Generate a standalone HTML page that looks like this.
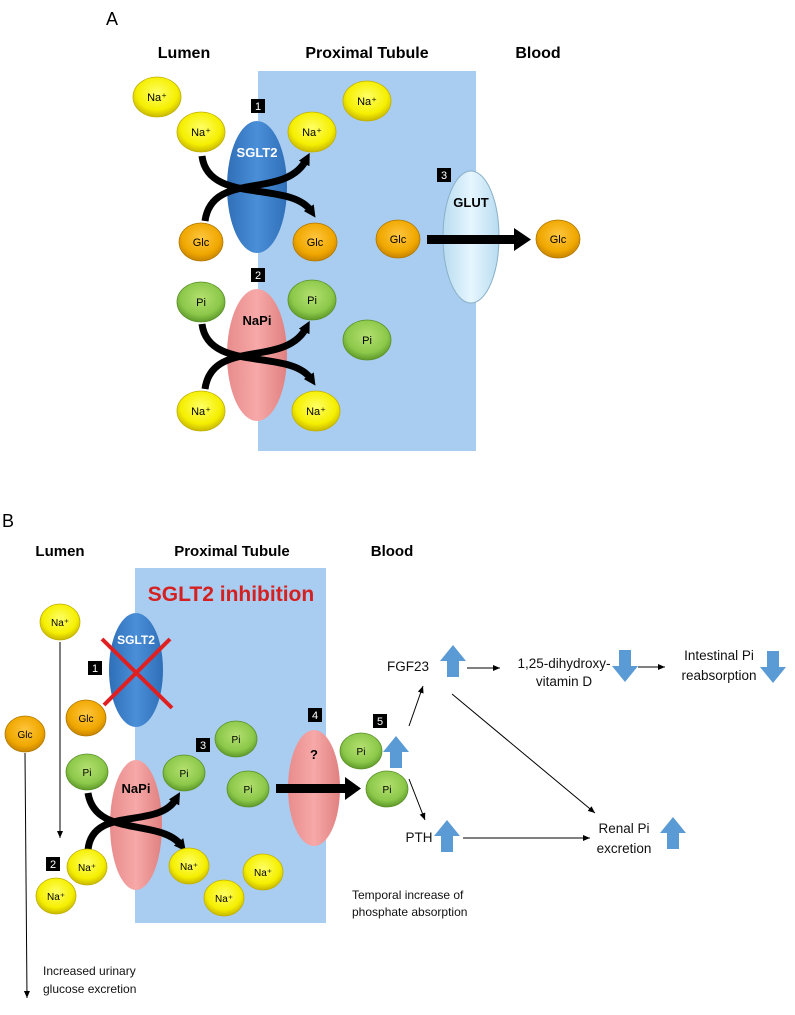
<!DOCTYPE html>
<html><head><meta charset="utf-8"><style>
html,body{margin:0;padding:0;background:#fff}
svg{display:block}
text{font-family:"Liberation Sans",sans-serif}
</style></head><body>
<svg width="795" height="1015" viewBox="0 0 795 1015" xmlns="http://www.w3.org/2000/svg">
<defs>
<radialGradient id="y" cx="50%" cy="40%" r="60%"><stop offset="0" stop-color="#ffff66"/><stop offset="0.7" stop-color="#f5ef00"/><stop offset="1" stop-color="#c8b800"/></radialGradient>
<radialGradient id="o" cx="50%" cy="40%" r="60%"><stop offset="0" stop-color="#ffc640"/><stop offset="0.7" stop-color="#f0a800"/><stop offset="1" stop-color="#c88400"/></radialGradient>
<radialGradient id="g" cx="50%" cy="40%" r="60%"><stop offset="0" stop-color="#b4e070"/><stop offset="0.7" stop-color="#8cc84a"/><stop offset="1" stop-color="#5f9a2a"/></radialGradient>
<linearGradient id="bl" x1="0" x2="1"><stop offset="0" stop-color="#2f6fb8"/><stop offset="0.5" stop-color="#4a8fd8"/><stop offset="1" stop-color="#2f6fb8"/></linearGradient>
<linearGradient id="pk" x1="0" x2="1"><stop offset="0" stop-color="#e88c8c"/><stop offset="0.5" stop-color="#f7a8a8"/><stop offset="1" stop-color="#e08080"/></linearGradient>
<linearGradient id="lb" x1="0" x2="1"><stop offset="0" stop-color="#b8dcf0"/><stop offset="0.5" stop-color="#e6f6ff"/><stop offset="1" stop-color="#b8dcf0"/></linearGradient>
<marker id="ah" markerWidth="8" markerHeight="8" refX="7" refY="4" orient="auto" markerUnits="userSpaceOnUse"><path d="M0,1 L7,4 L0,7z" fill="#000"/></marker>
<marker id="bh" markerWidth="12" markerHeight="12" refX="4" refY="6" orient="auto" markerUnits="userSpaceOnUse"><path d="M0,0 L12,6 L0,12z" fill="#000"/></marker>
<path id="up" d="M-6,16 L-6,0 L-13,0 L0,-16 L13,0 L6,0 L6,16z" fill="#5b9bd5"/>
<path id="dn" d="M-6,-16 L-6,0 L-13,0 L0,16 L13,0 L6,0 L6,-16z" fill="#5b9bd5"/>
</defs>

<!-- Part A -->
<text x="106" y="25" font-size="18">A</text>
<g font-weight="bold" font-size="16" text-anchor="middle">
<text x="184" y="58">Lumen</text><text x="367" y="58">Proximal Tubule</text><text x="538" y="58">Blood</text></g>
<rect x="258" y="71" width="218" height="380" fill="#a9cdf0"/>

<g font-size="11" text-anchor="middle" stroke-width="0.8">
<ellipse cx="157" cy="97" rx="24" ry="20" fill="url(#y)" stroke="#c0b000"/><text x="157" y="101">Na⁺</text>
<ellipse cx="201" cy="132" rx="24" ry="20" fill="url(#y)" stroke="#c0b000"/><text x="201" y="136">Na⁺</text>
<ellipse cx="312" cy="132" rx="24" ry="20" fill="url(#y)" stroke="#c0b000"/><text x="312" y="136">Na⁺</text>
<ellipse cx="367" cy="101" rx="24" ry="20" fill="url(#y)" stroke="#c0b000"/><text x="367" y="105">Na⁺</text>
<ellipse cx="201" cy="242" rx="22" ry="19" fill="url(#o)" stroke="#b07800"/><text x="201" y="246">Glc</text>
<ellipse cx="315" cy="242" rx="22" ry="19" fill="url(#o)" stroke="#b07800"/><text x="315" y="246">Glc</text>
<ellipse cx="398" cy="239" rx="22" ry="19" fill="url(#o)" stroke="#b07800"/><text x="398" y="243">Glc</text>
<ellipse cx="558" cy="239" rx="22" ry="19" fill="url(#o)" stroke="#b07800"/><text x="558" y="243">Glc</text>
<ellipse cx="201" cy="302" rx="24" ry="20" fill="url(#g)" stroke="#5a9028"/><text x="201" y="306">Pi</text>
<ellipse cx="312" cy="300" rx="24" ry="20" fill="url(#g)" stroke="#5a9028"/><text x="312" y="304">Pi</text>
<ellipse cx="367" cy="340" rx="24" ry="20" fill="url(#g)" stroke="#5a9028"/><text x="367" y="344">Pi</text>
<ellipse cx="201" cy="411" rx="24" ry="20" fill="url(#y)" stroke="#c0b000"/><text x="201" y="415">Na⁺</text>
<ellipse cx="316" cy="411" rx="24" ry="20" fill="url(#y)" stroke="#c0b000"/><text x="316" y="415">Na⁺</text>
</g>

<ellipse cx="257" cy="187" rx="30" ry="66" fill="url(#bl)"/>
<text x="257" y="157" font-size="13" font-weight="bold" fill="#fff" text-anchor="middle">SGLT2</text>
<ellipse cx="257" cy="355" rx="30" ry="66" fill="url(#pk)"/>
<text x="257" y="325" font-size="13" font-weight="bold" text-anchor="middle">NaPi</text>
<ellipse cx="471" cy="237" rx="28" ry="66" fill="url(#lb)" stroke="#8ab0c8"/>
<text x="471" y="207" font-size="13" font-weight="bold" text-anchor="middle">GLUT</text>

<g fill="none" stroke="#000" stroke-width="7">
<path d="M202,156 C208,205 290,180 311,211" marker-end="url(#bh)"/>
<path d="M205,221 C212,170 285,200 306,160" marker-end="url(#bh)"/>
<path d="M202,324 C208,373 290,348 311,379" marker-end="url(#bh)"/>
<path d="M205,389 C212,338 285,368 306,328" marker-end="url(#bh)"/>
</g>
<rect x="427" y="235" width="88" height="9" fill="#000"/><path d="M514,228 L531,239.5 L514,251z" fill="#000"/>

<g font-size="11" fill="#fff" text-anchor="middle">
<rect x="251" y="99" width="14" height="14" fill="#000"/><text x="258" y="110">1</text>
<rect x="251" y="268" width="14" height="14" fill="#000"/><text x="258" y="279">2</text>
<rect x="437" y="168" width="14" height="14" fill="#000"/><text x="444" y="179">3</text>
</g>

<!-- Part B -->
<text x="2" y="527" font-size="18">B</text>
<g font-weight="bold" font-size="15" text-anchor="middle">
<text x="60" y="556">Lumen</text><text x="232" y="556">Proximal Tubule</text><text x="392" y="556">Blood</text></g>
<rect x="135" y="568" width="191" height="355" fill="#a9cdf0"/>
<text x="231" y="601" font-size="21" font-weight="bold" fill="#d42020" text-anchor="middle">SGLT2 inhibition</text>

<line x1="60" y1="642" x2="60" y2="838" stroke="#000" marker-end="url(#ah)"/>
<line x1="25" y1="753" x2="27" y2="998" stroke="#000" marker-end="url(#ah)"/>

<ellipse cx="136" cy="670" rx="27" ry="57" fill="url(#bl)"/>
<text x="136" y="644" font-size="12" font-weight="bold" fill="#fff" text-anchor="middle">SGLT2</text>
<g stroke="#e02020" stroke-width="4"><line x1="102" y1="639" x2="172" y2="708"/><line x1="170" y1="639" x2="104" y2="705"/></g>
<ellipse cx="136" cy="825" rx="26" ry="65" fill="url(#pk)"/>
<text x="136" y="793" font-size="13" font-weight="bold" text-anchor="middle">NaPi</text>
<ellipse cx="314" cy="788" rx="26" ry="58" fill="url(#pk)"/>
<text x="314" y="759" font-size="13" font-weight="bold" text-anchor="middle">?</text>

<g fill="none" stroke="#000" stroke-width="7">
<path d="M88,793 C95,838 160,818 181,845" marker-end="url(#bh)"/>
<path d="M88,850 C92,805 158,830 176,799" marker-end="url(#bh)"/>
</g>
<rect x="276" y="784" width="70" height="9" fill="#000"/><path d="M345,777 L361,788.5 L345,800z" fill="#000"/>

<g font-size="10" text-anchor="middle" stroke-width="0.8">
<ellipse cx="60" cy="622" rx="20" ry="18" fill="url(#y)" stroke="#c0b000"/><text x="60" y="626">Na⁺</text>
<ellipse cx="86" cy="718" rx="20" ry="18" fill="url(#o)" stroke="#b07800"/><text x="86" y="722">Glc</text>
<ellipse cx="25" cy="734" rx="20" ry="18" fill="url(#o)" stroke="#b07800"/><text x="25" y="738">Glc</text>
<ellipse cx="87" cy="772" rx="21" ry="18" fill="url(#g)" stroke="#5a9028"/><text x="87" y="776">Pi</text>
<ellipse cx="184" cy="773" rx="21" ry="18" fill="url(#g)" stroke="#5a9028"/><text x="184" y="777">Pi</text>
<ellipse cx="236" cy="739" rx="21" ry="18" fill="url(#g)" stroke="#5a9028"/><text x="236" y="743">Pi</text>
<ellipse cx="248" cy="789" rx="21" ry="18" fill="url(#g)" stroke="#5a9028"/><text x="248" y="793">Pi</text>
<ellipse cx="361" cy="751" rx="21" ry="18" fill="url(#g)" stroke="#5a9028"/><text x="361" y="755">Pi</text>
<ellipse cx="387" cy="789" rx="21" ry="18" fill="url(#g)" stroke="#5a9028"/><text x="387" y="793">Pi</text>
<ellipse cx="87" cy="867" rx="20" ry="18" fill="url(#y)" stroke="#c0b000"/><text x="87" y="871">Na⁺</text>
<ellipse cx="56" cy="896" rx="20" ry="18" fill="url(#y)" stroke="#c0b000"/><text x="56" y="900">Na⁺</text>
<ellipse cx="189" cy="866" rx="20" ry="18" fill="url(#y)" stroke="#c0b000"/><text x="189" y="870">Na⁺</text>
<ellipse cx="263" cy="872" rx="20" ry="18" fill="url(#y)" stroke="#c0b000"/><text x="263" y="876">Na⁺</text>
<ellipse cx="224" cy="898" rx="20" ry="18" fill="url(#y)" stroke="#c0b000"/><text x="224" y="902">Na⁺</text>
</g>

<g font-size="11" fill="#fff" text-anchor="middle">
<rect x="88" y="661" width="14" height="14" fill="#000"/><text x="95" y="672">1</text>
<rect x="46" y="857" width="14" height="14" fill="#000"/><text x="53" y="868">2</text>
<rect x="196" y="738" width="14" height="14" fill="#000"/><text x="203" y="749">3</text>
<rect x="308" y="708" width="14" height="14" fill="#000"/><text x="315" y="719">4</text>
<rect x="373" y="714" width="14" height="14" fill="#000"/><text x="380" y="725">5</text>
</g>

<use href="#up" x="396" y="752"/>
<use href="#up" x="453" y="661"/>
<use href="#dn" x="625" y="666"/>
<use href="#dn" x="773" y="667"/>
<use href="#up" x="447" y="836"/>
<use href="#up" x="673" y="833"/>

<g font-size="13.5" fill="#111">
<text x="408" y="671" text-anchor="middle">FGF23</text>
<text x="564" y="668" text-anchor="middle">1,25-dihydroxy-</text>
<text x="564" y="686" text-anchor="middle">vitamin D</text>
<text x="719" y="660" text-anchor="middle">Intestinal Pi</text>
<text x="719" y="680" text-anchor="middle">reabsorption</text>
<text x="419" y="842" text-anchor="middle">PTH</text>
<text x="624" y="833" text-anchor="middle">Renal Pi</text>
<text x="624" y="853" text-anchor="middle">excretion</text>
</g>
<g font-size="12" fill="#111">
<text x="352" y="899">Temporal increase of</text>
<text x="352" y="916">phosphate absorption</text>
<text x="43" y="975">Increased urinary</text>
<text x="43" y="993">glucose excretion</text>
</g>

<g stroke="#000" marker-end="url(#ah)">
<line x1="467" y1="668" x2="500" y2="668"/>
<line x1="638" y1="667" x2="665" y2="667"/>
<line x1="409" y1="726" x2="423" y2="686"/>
<line x1="409" y1="779" x2="425" y2="820"/>
<line x1="452" y1="694" x2="595" y2="813"/>
<line x1="463" y1="838" x2="590" y2="838"/>
</g>
</svg>
</body></html>
